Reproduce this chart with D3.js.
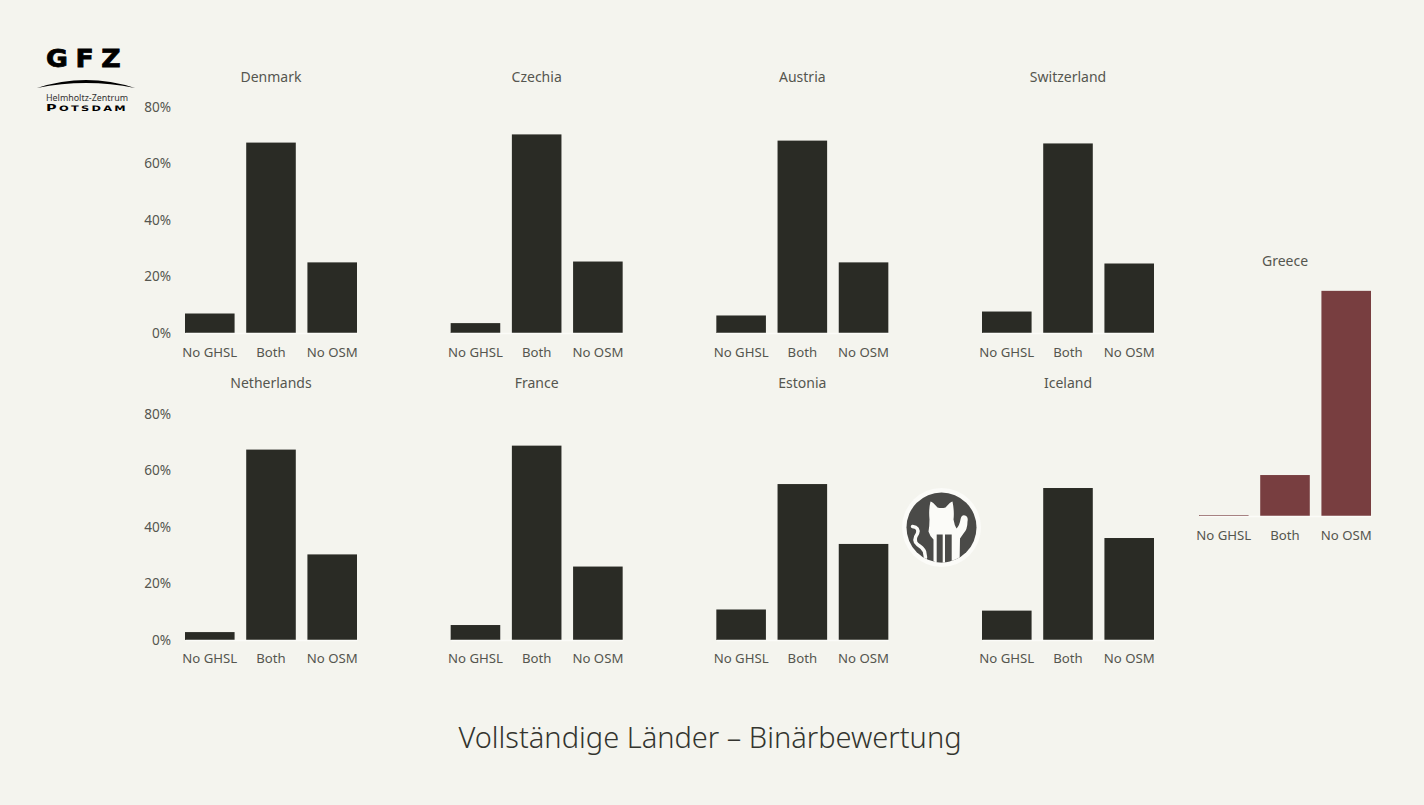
<!DOCTYPE html>
<html><head><meta charset="utf-8">
<script src="https://cdn.jsdelivr.net/npm/d3@7"></script>
<style>
html,body{margin:0;padding:0;background:#f4f4ee;overflow:hidden}
svg{display:block}
text{font-family:"Noto Sans",sans-serif}
</style></head><body>
<script>
const categories = ["No GHSL","Both","No OSM"];
const yTicks = [0,20,40,60,80];
const title = "Vollständige Länder – Binärbewertung";
const denmark = [6.9,67.4,25.0];
const czechia = [3.5,70.3,25.3];
const austria = [6.2,68.1,25.0];
const switzerland = [7.6,67.1,24.6];
const netherlands = [2.8,67.4,30.3];
const france = [5.3,68.8,26.0];
const estonia = [10.8,55.2,34.0];
const iceland = [10.4,53.8,36.1];
const greece = [0.3,14.5,79.7];
const panels = [
 {name:"Denmark",values:denmark,col:0,row:0,axis:true},
 {name:"Czechia",values:czechia,col:1,row:0},
 {name:"Austria",values:austria,col:2,row:0},
 {name:"Switzerland",values:switzerland,col:3,row:0},
 {name:"Netherlands",values:netherlands,col:0,row:1,axis:true},
 {name:"France",values:france,col:1,row:1},
 {name:"Estonia",values:estonia,col:2,row:1},
 {name:"Iceland",values:iceland,col:3,row:1}
];
const W=1424,H=805,dark="#2a2b25",red="#783e40",txt="#55564f";
const svg=d3.select("body").append("svg").attr("width",W).attr("height",H);
svg.append("rect").attr("width",W).attr("height",H).attr("fill","#f4f4ee");

function panel(p,x0,y0,color,titleDy,labelPad){
  const x=d3.scaleBand().domain(categories).range([x0,x0+172]).paddingInner(0.19).paddingOuter(0);
  const y=d3.scaleLinear().domain([0,80]).range([y0,y0-226]);
  const g=svg.append("g");
  g.selectAll("rect").data(p.values).join("rect")
    .attr("x",(d,i)=>x(categories[i])).attr("width",x.bandwidth())
    .attr("y",d=>y(d)).attr("height",d=>y(0)-y(d)).attr("fill",color);
  const ax=g.append("g").attr("transform",`translate(0,${y0})`)
    .call(d3.axisBottom(x).tickSize(0).tickPadding(labelPad));
  ax.select(".domain").attr("stroke","#fbfbf8").attr("stroke-width",1.5);
  ax.selectAll("text").attr("font-size",13.2).attr("fill",txt).style("font-family",'"Noto Sans",sans-serif');
  if(p.axis){
    const ay=g.append("g").attr("transform",`translate(${x0+1},0)`)
      .call(d3.axisLeft(y).tickValues(yTicks).tickFormat(d=>d+"%").tickSize(0).tickPadding(15));
    ay.select(".domain").remove();
    ay.selectAll("text").attr("font-size",13.6).attr("fill",txt).style("font-family",'"Noto Sans",sans-serif');
  }
  g.append("text").attr("x",x0+86).attr("y",y0-251+titleDy).attr("text-anchor","middle")
    .attr("font-size",14).attr("fill",txt).text(p.name);
}
const colX=d3.scaleLinear().domain([0,3]).range([185,982]);
const rowY=d3.scaleOrdinal().domain([0,1]).range([333,640]);
panels.forEach(p=>panel(p,colX(p.col),rowY(p.row),dark,p.row?-1:0,p.row?14:15));
panel({name:"Greece",values:greece},1199,516,red,1,15);

svg.append("text").attr("x",710).attr("y",748).attr("text-anchor","middle")
  .attr("font-size",29).attr("font-weight",300).attr("fill","#33342e").text(title);

// logo
const logo=svg.append("g");
logo.append("text").attr("x",46).attr("y",66.5).attr("font-size",25)
  .attr("font-weight",700).attr("letter-spacing",7).attr("textLength",82).attr("lengthAdjust","spacingAndGlyphs")
  .style("font-family",'"DejaVu Sans",sans-serif').style("stroke","#000").style("stroke-width",0.8).attr("fill","#000").text("GFZ");
logo.append("path").attr("d","M37 88 Q86 72 135 88 Q86 78 37 88 Z").attr("fill","#000");
logo.append("text").attr("x",46).attr("y",100.5).attr("font-size",9).attr("textLength",82).attr("lengthAdjust","spacingAndGlyphs").attr("fill","#333").text("Helmholtz-Zentrum");
const pots=logo.append("text").attr("x",46).attr("y",111).attr("font-size",7.5)
  .attr("font-weight",700).attr("letter-spacing",1.5).attr("textLength",82).attr("lengthAdjust","spacingAndGlyphs")
  .style("font-family",'"DejaVu Sans",sans-serif').attr("fill","#000");
pots.append("tspan").attr("font-size",9.5).text("P");
pots.append("tspan").text("OTSDAM");

// cat badge
const b=svg.append("g").attr("transform","translate(941.5,527.5)");
svg.append("clipPath").attr("id","badge").append("circle").attr("r",35);
b.append("circle").attr("r",39.5).attr("fill","#fbfbf8");
b.append("circle").attr("r",35).attr("fill","#4a4a48");
const cat=b.append("g").attr("clip-path","url(#badge)");
cat.append("path").attr("fill","#fbfbf8").attr("d","M-11 -26 Q-9 -26 -4 -20 Q0 -19 4 -20 Q9 -26 11 -26 Q13 -16 12 -8 Q13 -2 15 1 Q18 -2 19 -8 Q20 -13 23.5 -12 Q27 -11 26 -6 Q26 2 22 6 L18.5 11 L18 40 L-8 40 L-8 12 Q-12 8 -13 4 Q-12 -2 -12 -8 Q-13 -18 -11 -26 Z");
cat.selectAll("rect.gap").data([[-4.8,6],[3.5,6.7]]).join("rect").attr("class","gap")
  .attr("x",d=>d[0]).attr("width",d=>d[1]).attr("y",7).attr("height",33).attr("fill","#4a4a48");
cat.append("path").attr("fill","none").attr("stroke","#fbfbf8").attr("stroke-width",3.5).attr("stroke-linecap","round")
  .attr("d","M-29 -1 Q-22 0 -24 6 Q-29 13 -24 17 Q-19 20 -17 24 L-16 30");
</script>
</body></html>
